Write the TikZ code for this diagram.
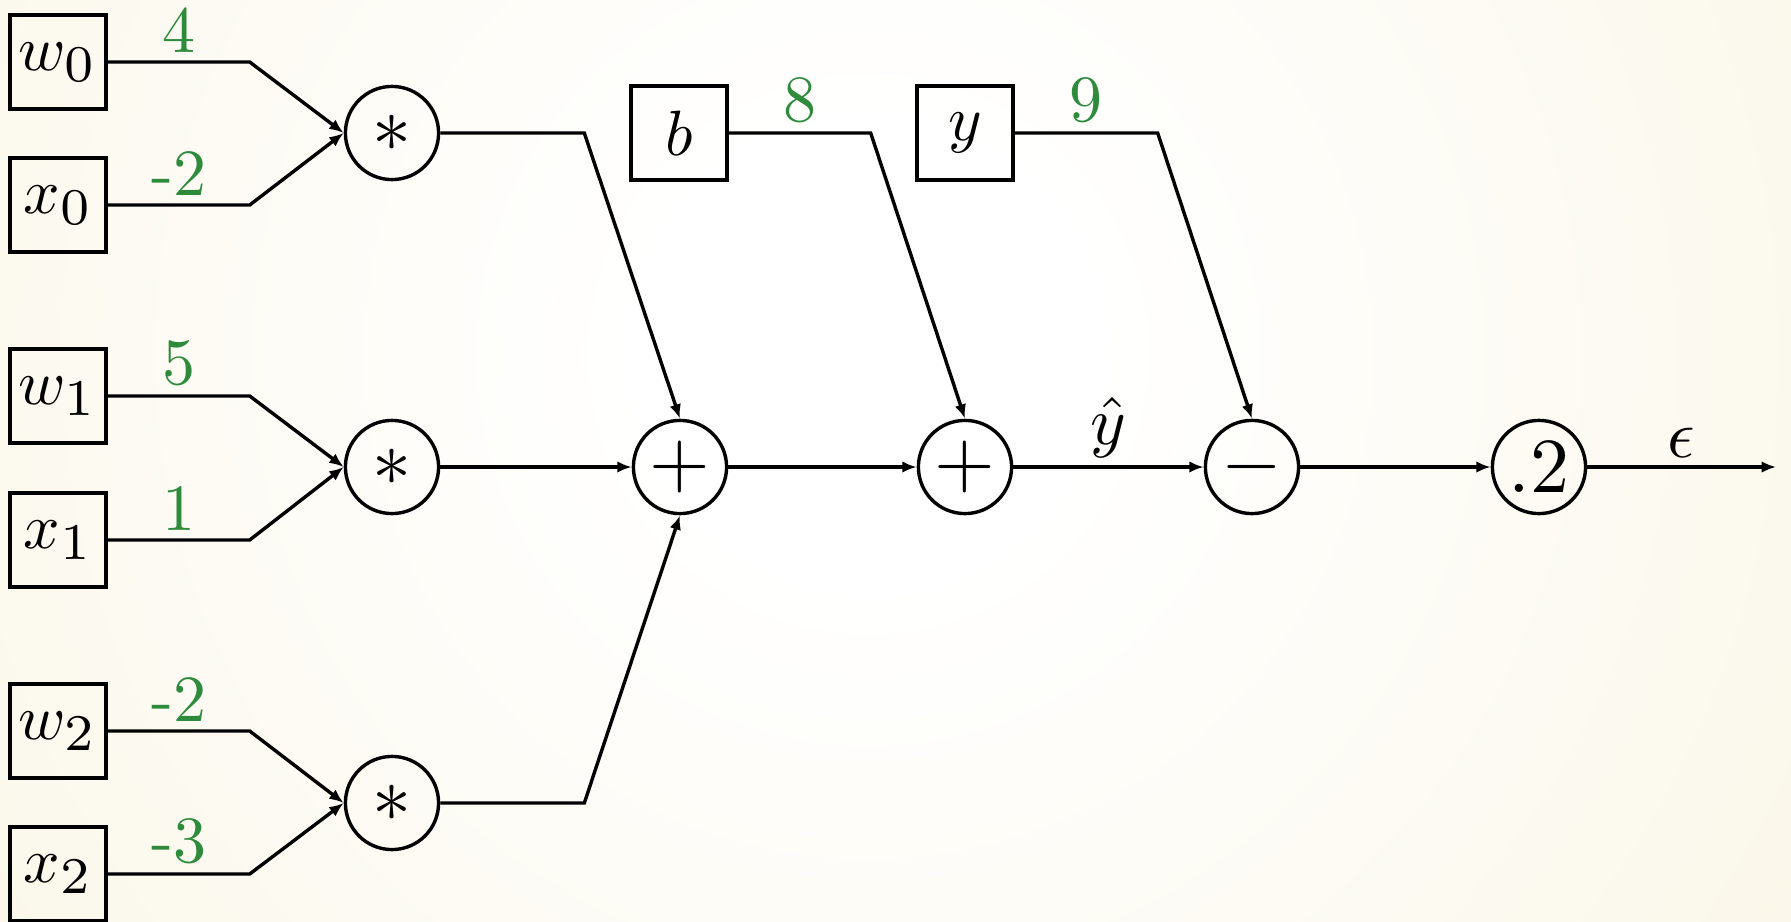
\documentclass[tikz,border=0pt]{standalone}
\usetikzlibrary{arrows.meta,calc}
\definecolor{cream}{RGB}{247,241,216}
\definecolor{lblgreen}{RGB}{46,139,60}
\pgfdeclareradialshading{bgshade}{\pgfpoint{0bp}{0bp}}{color(0bp)=(white); color(5bp)=(white); color(40bp)=(cream); color(50bp)=(cream)}
\newcommand{\bx}[1]{\scalebox{1.6}{$#1$}}
\newcommand{\subx}[1]{\scalebox{1.15}{$\scriptstyle #1$}}
\newcommand{\opx}[1]{\scalebox{1.95}{$#1$}}
\newcommand{\vx}[1]{\scalebox{1.65}{#1}}
\newcommand{\sx}[1]{\scalebox{1.7}{$#1$}}
\begin{document}
\begin{tikzpicture}[x=0.25pt,y=-0.25pt,
  box/.style={draw, line width=0.85pt, minimum width=24pt, minimum height=23.5pt, inner sep=0pt},
  op/.style={draw, circle, line width=0.85pt, minimum size=23.3pt, inner sep=0pt},
  conn/.style={line width=0.85pt, -{Latex[length=3.6pt,width=2.9pt]}},
  val/.style={text=lblgreen, inner sep=2pt, above},
  sym/.style={inner sep=2pt, above}]

\useasboundingbox (0,0) rectangle (1791,922);
\begin{scope}
  \clip (0,0) rectangle (1791,922);
  \shade[shading=bgshade] (868,354) circle (280pt);
\end{scope}

\node[box] (w0) at (58,62) {\bx{w_{\subx{0}}}};
\node[box] (x0) at (58,205) {\bx{x_{\subx{0}}}};
\node[box] (w1) at (58,396) {\bx{w_{\subx{1}}}};
\node[box] (x1) at (58,540) {\bx{x_{\subx{1}}}};
\node[box] (w2) at (58,731) {\bx{w_{\subx{2}}}};
\node[box] (x2) at (58,874) {\bx{x_{\subx{2}}}};
\node[op] (m0) at (392,133) {\opx{*}};
\node[op] (m1) at (392,467) {\opx{*}};
\node[op] (m2) at (392,803) {\opx{*}};
\node[op] (p1) at (680,467) {\opx{+}};
\node[box] (b) at (679,133) {\bx{b}};
\node[op] (p2) at (965,467) {\opx{+}};
\node[box] (y) at (965,133) {\bx{y}};
\node[op] (s) at (1252,467) {\opx{-}};
\node[op] (sq) at (1539,467) {\opx{.2}};
\coordinate (out) at (1776,467);

\draw[conn] (w0.east) -- ++(142,0) node[val,midway] {\vx{4}} -- (m0.west);
\draw[conn] (x0.east) -- ++(142,0) node[val,midway] {\vx{-2}} -- (m0.west);
\draw[conn] (w1.east) -- ++(142,0) node[val,midway] {\vx{5}} -- (m1.west);
\draw[conn] (x1.east) -- ++(142,0) node[val,midway] {\vx{1}} -- (m1.west);
\draw[conn] (w2.east) -- ++(142,0) node[val,midway] {\vx{-2}} -- (m2.west);
\draw[conn] (x2.east) -- ++(142,0) node[val,midway] {\vx{-3}} -- (m2.west);

\draw[conn] (m0.east) -- ++(144,0) -- (p1.north);
\draw[conn] (m1) -- (p1);
\draw[conn] (m2.east) -- ++(144,0) -- (p1.south);
\draw[conn] (b.east) -- ++(142,0) node[val,midway] {\vx{8}} -- (p2.north);
\draw[conn] (p1) -- (p2);
\draw[conn] (y.east) -- ++(143,0) node[val,midway] {\vx{9}} -- (s.north);
\draw[conn] (p2) -- node[sym] {\sx{\hat{y}}} (s);
\draw[conn] (s) -- (sq);
\draw[conn] (sq) -- node[sym] {\sx{\epsilon}} (out);
\end{tikzpicture}
\end{document}
